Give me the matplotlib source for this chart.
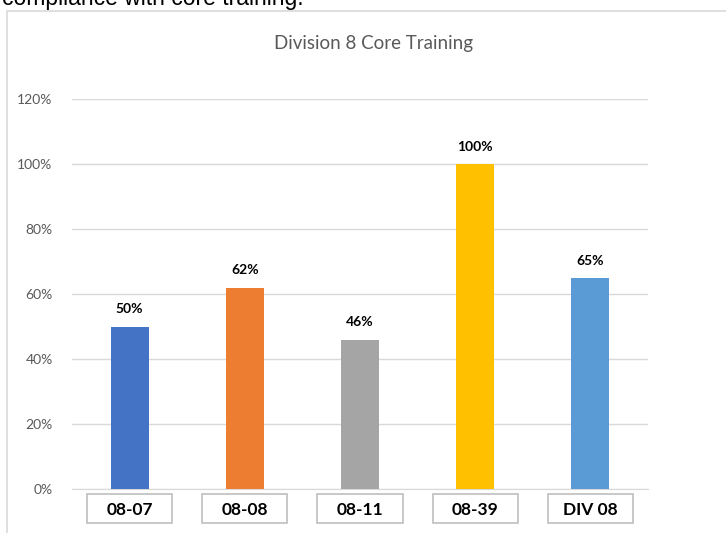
import matplotlib
matplotlib.use("Agg")
import matplotlib.pyplot as plt
from matplotlib.patches import Rectangle
from matplotlib.ticker import PercentFormatter

# ---- data ----
categories = ['08-07', '08-08', '08-11', '08-39', 'DIV 08']
values = [0.50, 0.62, 0.46, 1.00, 0.65]
value_labels = ['50%', '62%', '46%', '100%', '65%']
colors = ['#4472C4', '#ED7D31', '#A5A5A5', '#FFC000', '#5B9BD5']
y_ticks = [0, 0.2, 0.4, 0.6, 0.8, 1.0, 1.2]

plt.rcParams['font.family'] = ['Lato', 'DejaVu Sans']

W, H = 726, 533
fig = plt.figure(figsize=(W / 100, H / 100), dpi=100)

# cropped sentence above the chart (cut off at the top, as in the source)
fig.text(2 / W, 1 - 5 / H, 'compliance with core training.', fontsize=16.5,
         family=['Liberation Sans', 'DejaVu Sans'], color='black',
         ha='left', va='baseline')

# chart frame
fig.patches.append(Rectangle((7 / W, -0.05), 1.2, 1 - 11 / H + 0.05,
                             transform=fig.transFigure, fill=False,
                             edgecolor='#d9d9d9', linewidth=1.2))

ax = fig.add_axes([72 / W, 1 - 489 / H, 576 / W, 390 / H])
x = range(len(categories))
bars = ax.bar(x, values, width=0.33, color=colors, zorder=3)

ax.set_xlim(-0.5, len(categories) - 0.5)
ax.set_ylim(0, 1.2)
ax.set_yticks(y_ticks)
ax.yaxis.set_major_formatter(PercentFormatter(1.0, decimals=0))
ax.tick_params(axis='y', length=0, labelsize=10, labelcolor='#595959', pad=14)
ax.set_xticks([])
ax.grid(axis='y', color='#d9d9d9', linewidth=1, zorder=0)
for s in ['top', 'right', 'left']:
    ax.spines[s].set_visible(False)
ax.spines['bottom'].set_color('#d9d9d9')

for b, lab in zip(bars, value_labels):
    ax.annotate(lab, (b.get_x() + b.get_width() / 2, b.get_height()),
                xytext=(0, 8), textcoords='offset points', ha='center',
                va='bottom', fontsize=10, fontweight='bold', color='black')

# boxed category labels under the axis
trans = ax.get_xaxis_transform()
for i, cat in enumerate(categories):
    ax.add_patch(Rectangle((i - 0.37, -34 / 390), 0.74, 29 / 390,
                           transform=trans, fill=True, facecolor='white',
                           edgecolor='#bfbfbf', linewidth=1.2, clip_on=False))
    ax.text(i, -21 / 390, cat, transform=trans, ha='center', va='center',
            fontsize=12.5, fontweight='bold', color='black')

fig.text(374 / W, 1 - 43 / H, 'Division 8 Core Training', ha='center',
         va='center', fontsize=13.5, color='#595959')

fig.savefig('out.png', dpi=100)
